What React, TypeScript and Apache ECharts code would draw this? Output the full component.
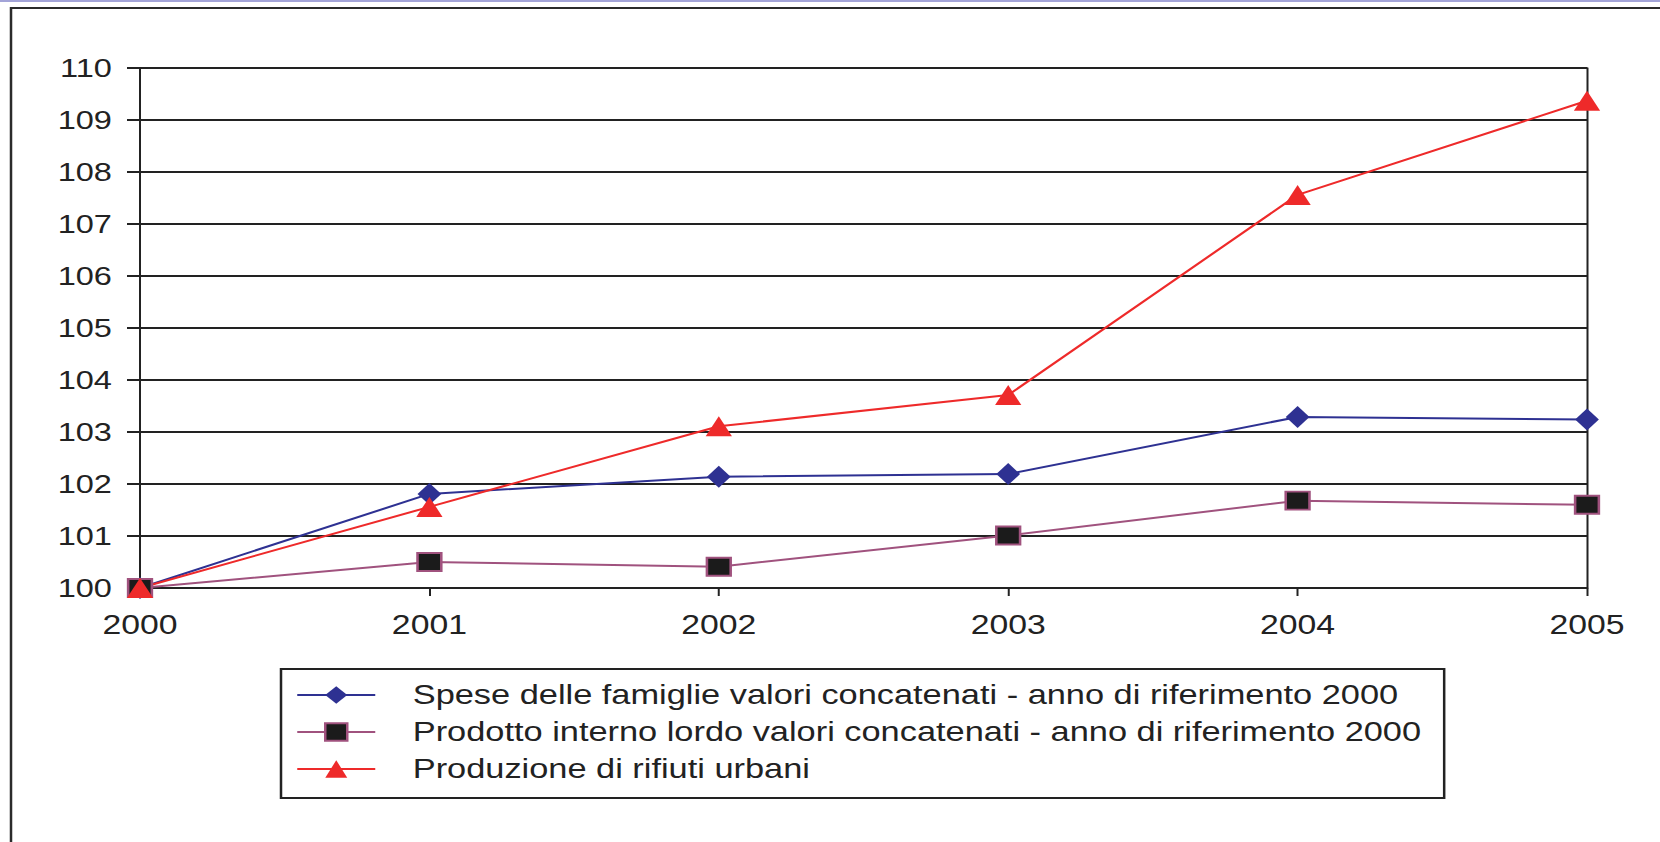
import React, { useEffect, useRef } from "react";
import * as echarts from "echarts";

// ---- data ----
const years = ["2000", "2001", "2002", "2003", "2004", "2005"];
const speseFamiglie = [100, 101.81, 102.14, 102.19, 103.29, 103.24];
const prodottoInterno = [100, 100.5, 100.41, 101.01, 101.68, 101.6];
const rifiutiUrbani = [100, 101.56, 103.11, 103.71, 107.56, 109.37];
const seriesNames = [
  "Spese delle famiglie valori concatenati - anno di riferimento 2000",
  "Prodotto interno lordo valori concatenati - anno di riferimento 2000",
  "Produzione di rifiuti urbani",
];
const yMin = 100;
const yMax = 110;
const yStep = 1;

// ---- layout (the reference is stretched horizontally) ----
const K = 1.25;
const W = 1660;
const H = 842;
const FONT = "'Liberation Sans', Arial, Helvetica, sans-serif";
const INK = "#222222";

export default function App() {
  const ref = useRef<HTMLDivElement>(null);

  useEffect(() => {
    const chart = echarts.init(ref.current!, null, { renderer: "svg" });
    chart.setOption({
      animation: false,
      backgroundColor: "#ffffff",
      textStyle: { fontFamily: FONT },
      graphic: [
        {
          type: "rect",
          silent: true,
          shape: { x: 0, y: 0, width: W / K, height: 2 },
          style: { fill: "#a3a4d8" },
        },
        {
          type: "rect",
          silent: true,
          shape: { x: 11 / K, y: 8, width: 2000, height: 2000 },
          style: { fill: "none", stroke: "#2b2b2b", lineWidth: 2 },
        },
      ],
      grid: { left: 140 / K, top: 68, width: (1587 - 140) / K, height: 520 },
      xAxis: {
        type: "category",
        data: years,
        boundaryGap: false,
        axisLine: { show: true, lineStyle: { color: INK, width: 2 } },
        axisTick: { show: true, length: 8, interval: 0, lineStyle: { color: INK, width: 1.6 } },
        axisLabel: { color: INK, fontSize: 27, margin: 23, interval: 0, fontFamily: FONT },
        splitLine: { show: false },
      },
      yAxis: [
        {
          type: "value",
          min: yMin,
          max: yMax,
          interval: yStep,
          axisLine: { show: true, lineStyle: { color: INK, width: 1.6 } },
          axisTick: { show: true, length: 10.4, lineStyle: { color: INK, width: 2 } },
          axisLabel: { color: INK, fontSize: 26, margin: 22.5, fontFamily: FONT },
          splitLine: { show: true, lineStyle: { color: INK, width: 2 } },
        },
        {
          type: "value",
          position: "right",
          min: yMin,
          max: yMax,
          interval: yStep,
          axisLine: { show: true, lineStyle: { color: INK, width: 1.6 } },
          axisTick: { show: false },
          axisLabel: { show: false },
          splitLine: { show: false },
        },
      ],
      legend: {
        orient: "vertical",
        left: 281 / K,
        top: 669,
        data: seriesNames,
        selectedMode: false,
        itemWidth: (374 - 296) / K,
        itemHeight: 22,
        itemGap: 9,
        padding: [12, 18, 15, 12],
        borderColor: INK,
        borderWidth: 2,
        backgroundColor: "#ffffff",
        textStyle: {
          fontSize: 27.5,
          color: INK,
          fontFamily: FONT,
          lineHeight: 22,
          padding: [0, 0, 0, 25],
        },
      },
      series: [
        {
          name: seriesNames[0],
          type: "line",
          data: speseFamiglie,
          symbol: "diamond",
          symbolSize: [19, 22],
          lineStyle: { color: "#2e3192", width: 2 },
          itemStyle: { color: "#2e3192" },
        },
        {
          name: seriesNames[1],
          type: "line",
          data: prodottoInterno,
          symbol: "rect",
          symbolSize: [19, 18],
          lineStyle: { color: "#a0527e", width: 2 },
          itemStyle: { color: "#1b1b1b", borderColor: "#a0527e", borderWidth: 2 },
        },
        {
          name: seriesNames[2],
          type: "line",
          data: rifiutiUrbani,
          symbol: "triangle",
          symbolSize: [21, 20],
          lineStyle: { color: "#ee2a2a", width: 2 },
          itemStyle: { color: "#ee2a2a" },
        },
      ],
    });
    return () => chart.dispose();
  }, []);

  return (
    <div
      style={{
        position: "fixed",
        left: 0,
        top: 0,
        width: W,
        height: H,
        overflow: "hidden",
        background: "#ffffff",
      }}
    >
      <div
        ref={ref}
        style={{
          width: W / K,
          height: H,
          transform: `scaleX(${K})`,
          transformOrigin: "0 0",
        }}
      />
    </div>
  );
}
